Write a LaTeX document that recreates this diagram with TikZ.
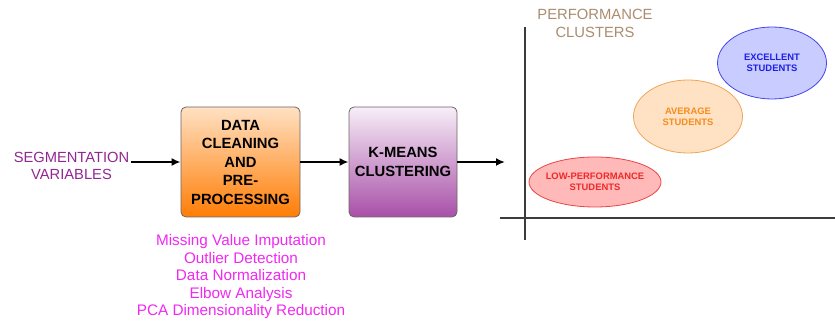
\documentclass[tikz,border=0pt]{standalone}
\usepackage{fontspec}
\setmainfont{Liberation Sans}
\usetikzlibrary{shapes.geometric,arrows.meta}
\definecolor{segpurple}{RGB}{145,40,145}
\definecolor{tan}{RGB}{170,140,110}
\definecolor{pinkish}{RGB}{240,40,240}
\definecolor{orangetop}{RGB}{255,225,195}
\definecolor{orangebot}{RGB}{255,125,5}
\definecolor{purptop}{RGB}{247,238,247}
\definecolor{purpbot}{RGB}{168,80,168}
\definecolor{boxborder}{RGB}{110,100,100}
\definecolor{axisgray}{RGB}{60,60,60}
\definecolor{exfill}{RGB}{200,204,255}
\definecolor{exline}{RGB}{70,70,235}
\definecolor{extext}{RGB}{30,30,230}
\definecolor{avfill}{RGB}{255,226,196}
\definecolor{avline}{RGB}{240,165,90}
\definecolor{avtext}{RGB}{245,140,30}
\definecolor{lofill}{RGB}{255,185,185}
\definecolor{loline}{RGB}{232,70,70}
\definecolor{lotext}{RGB}{240,40,40}
\tikzset{
  procbox/.style={draw=boxborder, line width=0.8pt, rounded corners=5pt, minimum height=110pt, inner sep=0pt, align=center, font=\fontsize{14.8}{18.5}\selectfont\bfseries},
  flowarrow/.style={-{Latex[length=9pt,width=8pt]}, line width=1.8pt, black},
  cluster/.style={ellipse, draw, line width=0.8pt, inner sep=0pt, align=center, font=\fontsize{9.4}{11.2}\selectfont\bfseries},
  axisline/.style={draw=axisgray, line width=1.5pt}
}
\begin{document}
\begin{tikzpicture}[x=1pt,y=-1pt]
\useasboundingbox (0,0) rectangle (835,323);
\node[text=segpurple, align=center, inner sep=0pt, font=\fontsize{14.7}{17}\selectfont] (seg) at (71.5,165.5) {SEGMENTATION\\VARIABLES};
\node[procbox, minimum width=119pt, top color=orangetop, bottom color=orangebot] (clean) at (240.5,162) {DATA\\CLEANING\\AND\\PRE-\\PROCESSING};
\node[procbox, minimum width=108pt, top color=purptop, bottom color=purpbot] (kmeans) at (403,162) {K-MEANS\\[0.5pt]CLUSTERING};
\node[text=pinkish, align=center, inner sep=0pt, font=\fontsize{15.3}{17.5}\selectfont] (steps) at (241,277) {Missing Value Imputation\\Outlier Detection\\Data Normalization\\Elbow Analysis\\PCA Dimensionality Reduction};
\coordinate (out) at (505,162);
\draw[flowarrow] (131,162) -- (clean.west);
\draw[flowarrow] (clean.east) -- (kmeans.west);
\draw[flowarrow] (kmeans.east) -- (out);
% axes
\coordinate (ytop) at (525,27);
\coordinate (ybot) at (525,240);
\coordinate (xl) at (500,218);
\coordinate (xr) at (835,218);
\draw[axisline] (ytop) -- (ybot);
\draw[axisline] (xl) -- (xr);
\node[text=tan, align=center, inner sep=0pt, font=\fontsize{14.8}{18}\selectfont] (title) at (595,23) {PERFORMANCE\\CLUSTERS};
\node[cluster, draw=exline, fill=exfill, text=extext, minimum width=109pt, minimum height=72pt] (ex) at (772,63) {EXCELLENT\\STUDENTS};
\node[cluster, draw=avline, fill=avfill, text=avtext, minimum width=109pt, minimum height=73pt] (av) at (688,116.5) {AVERAGE\\STUDENTS};
\node[cluster, draw=loline, fill=lofill, text=lotext, minimum width=132pt, minimum height=50pt, inner xsep=-4pt] (lo) at (595,182) {LOW-PERFORMANCE\\STUDENTS};
\end{tikzpicture}
\end{document}
